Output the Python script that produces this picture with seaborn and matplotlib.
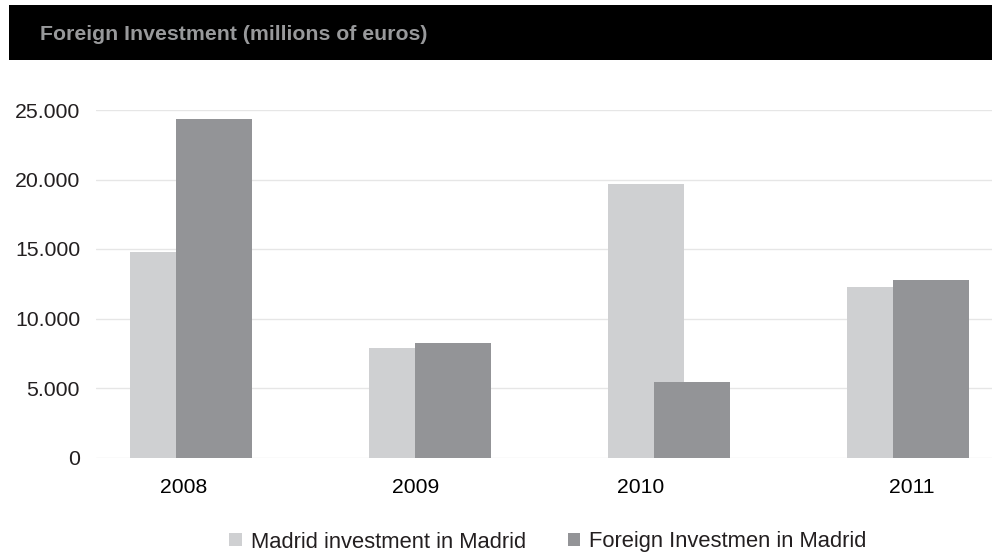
import matplotlib
matplotlib.use("Agg")
import matplotlib.pyplot as plt
import seaborn as sns
import pandas as pd
from matplotlib.patches import Patch, Rectangle
from matplotlib.ticker import FuncFormatter

# Chart data
years = ["2008", "2009", "2010", "2011"]
madrid_investment = [14800, 7900, 19650, 12250]
foreign_investment = [24350, 8250, 5400, 12750]
series_names = ["Madrid investment in Madrid", "Foreign Investmen in Madrid"]
y_ticks = [0, 5000, 10000, 15000, 20000, 25000]
title = "Foreign Investment (millions of euros)"

df = pd.DataFrame({
    "year": years * 2,
    "value": madrid_investment + foreign_investment,
    "series": [series_names[0]] * len(years) + [series_names[1]] * len(years),
})

LIGHT = "#cfd0d2"
DARK = "#939497"
TEXT = "#231f20"

sns.set_theme(style="white")
plt.rcParams["font.family"] = ["Liberation Sans", "DejaVu Sans"]

W, H = 992, 553
fig = plt.figure(figsize=(W / 100, H / 100), dpi=100)
ax = fig.add_axes([96 / W, 1 - 457.5 / H, 1 - 96 / W, (457.5 - 110) / H])

palette = {series_names[0]: LIGHT, series_names[1]: DARK}
sns.barplot(data=df, x="year", y="value", hue="series", order=years,
            hue_order=series_names, palette=palette, dodge=True, width=0.8,
            saturation=1, edgecolor="none", linewidth=0, legend=False, ax=ax)

# Overlapping bars: the foreign series sits partly in front of the local one
bar_w = 0.318
shift = 0.096
for p in ax.patches:
    if p.get_height() == 0 and p.get_width() == 0:
        continue
    cat = round(p.get_x() + p.get_width() / 2)
    fc = matplotlib.colors.to_hex(p.get_facecolor())
    if fc == LIGHT:
        p.set_x(cat - shift - bar_w / 2)
        p.set_zorder(2)
    else:
        p.set_x(cat + shift - bar_w / 2)
        p.set_zorder(3)
    p.set_width(bar_w)

ax.set_xlim(-0.397, 3.351)
ax.set_ylim(0, 25000)
ax.set_yticks(y_ticks)
ax.yaxis.set_major_formatter(FuncFormatter(lambda v, _: f"{int(v):,}".replace(",", ".")))

# Year labels sit slightly off the group centres
label_nudge = [-0.03, -0.06, -0.12, 0.017]
ax.set_xticks([i + d for i, d in enumerate(label_nudge)])
ax.set_xticklabels(years)

ax.set_xlabel("")
ax.set_ylabel("")
ax.yaxis.grid(True, color="#e6e6e6", linewidth=1.0)
ax.xaxis.grid(False)
ax.set_axisbelow(True)
for s in ax.spines.values():
    s.set_visible(False)
ax.tick_params(axis="y", length=0, pad=11.5, labelsize=15.3, labelcolor=TEXT)
ax.tick_params(axis="x", length=0, pad=14.5, labelsize=15.2, labelcolor="black")

# Title banner
fig.patches.append(Rectangle((9 / W, 1 - 60 / H), 1 - 9 / W, 55 / H,
                             transform=fig.transFigure, facecolor="black",
                             edgecolor="none", zorder=0))
fig.text(40 / W, 1 - 34 / H, title, color="#98999b", fontsize=15.3,
         fontweight="bold", va="center", ha="left")

handles = [Patch(facecolor=LIGHT, edgecolor="none"), Patch(facecolor=DARK, edgecolor="none")]
fig.legend(handles=handles, labels=series_names, loc="center",
           bbox_to_anchor=((226 + 870) / 2 / W, 1 - 542 / H), ncol=2,
           frameon=False, fontsize=15.8, handlelength=0.56, handleheight=0.56,
           handletextpad=0.42, columnspacing=1.9, labelcolor=TEXT)

fig.savefig("out.png", dpi=100)
